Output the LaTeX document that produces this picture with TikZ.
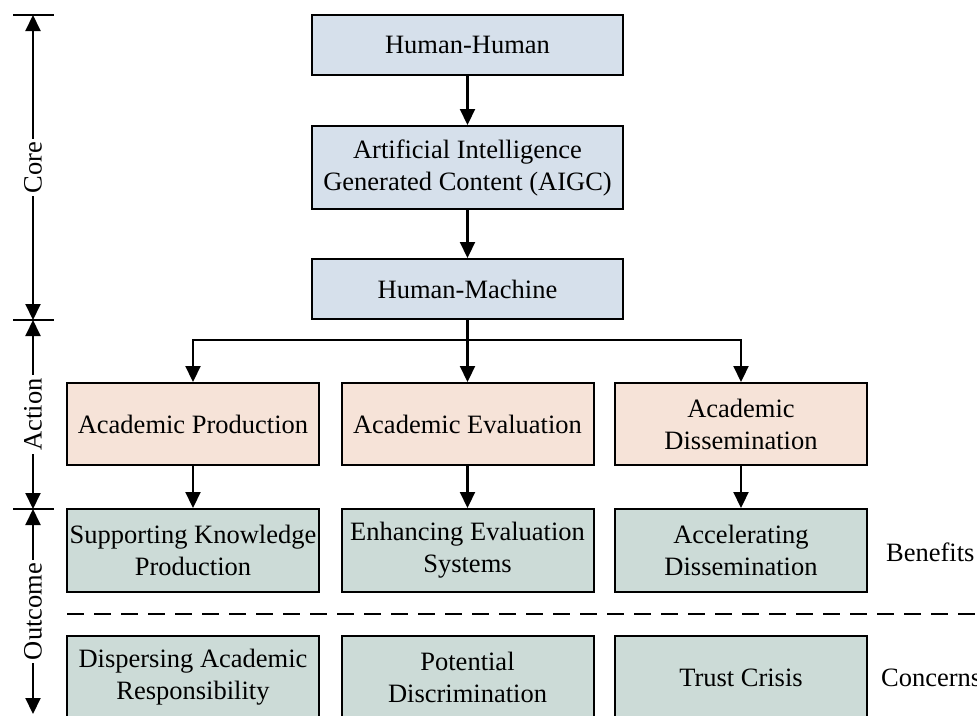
\documentclass[tikz,border=0pt]{standalone}
\usepackage{fontspec}
\setmainfont{Liberation Serif}
\usetikzlibrary{arrows.meta}
\definecolor{coreblue}{HTML}{D6E0EB}
\definecolor{actpeach}{HTML}{F6E3D8}
\definecolor{outgreen}{HTML}{CCDBD7}
\begin{document}
\begin{tikzpicture}[x=1pt,y=-1pt,
  every node/.style={font=\fontsize{26.5}{32}\selectfont},
  box/.style={draw=black, line width=2pt, align=center, inner sep=0pt},
  corebox/.style={box, fill=coreblue, minimum width=311pt},
  actbox/.style={box, fill=actpeach, minimum width=252pt, minimum height=82pt},
  outbox/.style={box, fill=outgreen, minimum width=252pt, minimum height=83pt},
  link/.style={line width=2.2pt, -{Triangle[length=16pt,width=15pt]}},
  axis/.style={line width=2pt, {Triangle[length=16pt,width=15pt]}-{Triangle[length=16pt,width=15pt]}},
  tick/.style={line width=2pt},
  axlabel/.style={midway, fill=white, rotate=90, inner sep=3pt},
  dashline/.style={line width=2pt, dash pattern=on 17pt off 10pt},
]
\useasboundingbox (0,0) rectangle (977,715);
\clip (0,0) rectangle (977,715);

% core chain
\node[corebox, minimum height=60pt] (hh) at (467.5,45) {Human-Human};
\node[corebox, minimum height=83pt] (aigc) at (467.5,167.5) {Artificial Intelligence\\Generated Content (AIGC)};
\node[corebox, minimum height=60pt] (hm) at (467.5,289) {Human-Machine};

% actions
\node[actbox] (prod) at (193,424) {Academic Production};
\node[actbox] (eval) at (467.5,424) {Academic Evaluation};
\node[actbox] (diss) at (741,424) {Academic\\Dissemination};

% benefits
\node[outbox] (bprod) at (193,550.5) {Supporting Knowledge\\Production};
\node[outbox] (beval) at (467.5,550.5) {Enhancing Evaluation\\Systems};
\node[outbox] (bdiss) at (741,550.5) {Accelerating\\Dissemination};

% concerns
\node[outbox] (cprod) at (193,677.5) {Dispersing Academic\\Responsibility};
\node[outbox] (ceval) at (467.5,677.5) {Potential\\Discrimination};
\node[outbox] (cdiss) at (741,677.5) {Trust Crisis};

% row labels
\node[anchor=west, inner sep=0pt] (benefits) at (886,552) {Benefits};
\node[anchor=west, inner sep=0pt] (concerns) at (881,678) {Concerns};

% separator between benefits and concerns
\coordinate (dashL) at (67,614);
\coordinate (dashR) at (990,614);
\draw[dashline] (dashL) -- (dashR);

% connectors
\draw[link] (hh) -- (aigc);
\draw[link] (aigc) -- (hm);
\coordinate (split) at (467.5,340);
\draw[line width=2.2pt] (hm.south) -- (split);
\draw[link] (split) -- (eval.north);
\draw[link] (split) -| (prod.north);
\draw[link] (split) -| (diss.north);
\draw[link] (prod) -- (bprod);
\draw[link] (eval) -- (beval);
\draw[link] (diss) -- (bdiss);

% stage axis on the left
\coordinate (a0) at (33,15);
\coordinate (a1) at (33,320);
\coordinate (a2) at (33,509);
\coordinate (a3) at (33,714);
\foreach \c in {a0,a1,a2}
  \draw[tick] ([xshift=-20pt]\c) -- ([xshift=21pt]\c);
\draw[axis] (a0) -- (a1) node[axlabel] {Core};
\draw[axis] (a1) -- (a2) node[axlabel] {Action};
\draw[axis] (a2) -- (a3) node[axlabel] {Outcome};
\end{tikzpicture}
\end{document}
